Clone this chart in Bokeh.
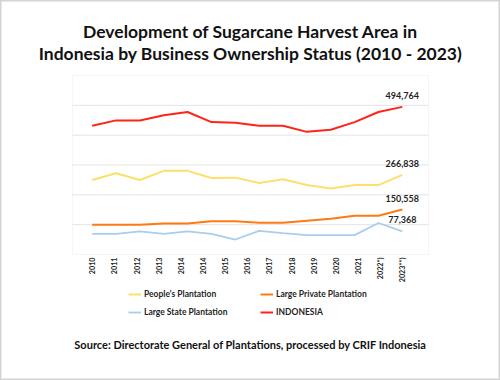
import numpy as np
from bokeh.plotting import figure
from bokeh.models import (ColumnDataSource, Range1d, Legend, LegendItem,
                          Label, BoxAnnotation)
from bokeh.embed import file_html
from bokeh.resources import INLINE
from bokeh.core.properties import value

# ---------------- data ----------------
years = ["2010", "2011", "2012", "2013", "2014", "2015", "2016",
         "2017", "2018", "2019", "2020", "2021", "2022", "2023"]
tick_labels = ["2010", "2011", "2012", "2013", "2014", "2014", "2015",
               "2016", "2017", "2018", "2019", "2020", "2021",
               "2022*)", "2023**)"]
peoples = [249800, 272600, 249800, 280400, 280400, 256600, 257600,
           239600, 252200, 232800, 221600, 232800, 232800, 266838]
private = [99600, 99600, 99600, 104000, 104000, 111800, 111800,
           106400, 106400, 113200, 120000, 130200, 130200, 150558]
state = [69200, 69200, 77400, 69200, 77400, 69200, 50200,
         79400, 71600, 64800, 64800, 64800, 105600, 77368]
indonesia = [431500, 449500, 449500, 466500, 477800, 443800, 441700,
             431500, 431500, 411100, 418000, 443800, 477800, 494764]
grid_values = [100000, 200000, 300000, 400000, 500000]
y_min, y_max = 0, 600000

FONT = "Lato"
TXT = "#1f1f1f"

# ---------------- geometry (pixels) ----------------
W, H = 500, 380
BOX_L, BOX_R, BOX_T, BOX_B = 72, 428, 75, 254      # plot-area box
X0_PX, TICK_PX = 91.7, 22.15                        # first tick, tick spacing
y_per_px = (y_max - y_min) / (BOX_B - BOX_T)

x_start = -X0_PX / TICK_PX
x_end = x_start + W / TICK_PX
y_start = y_min - (H - BOX_B) * y_per_px
y_end = y_max + BOX_T * y_per_px
box_left = x_start + BOX_L / TICK_PX
box_right = x_start + BOX_R / TICK_PX

n_ticks = len(tick_labels)
n_pts = len(years)
xs = [i * (n_ticks - 1) / (n_pts - 1) for i in range(n_pts)]

p = figure(width=W, height=H, output_backend="svg", toolbar_location=None,
           x_range=Range1d(x_start, x_end), y_range=Range1d(y_start, y_end),
           min_border=0, title=None)
p.axis.visible = False
p.grid.visible = False
p.background_fill_color = "white"
p.border_fill_color = "white"
p.outline_line_color = "#D4D4D4"
p.outline_line_width = 2

# plot-area box and grid lines
p.add_layout(BoxAnnotation(left=box_left, right=box_right, bottom=y_min,
                           top=y_max, fill_alpha=0, line_color="#DEDEDE",
                           line_width=1, level="underlay"))
p.segment(x0=[box_left] * len(grid_values), x1=[box_right] * len(grid_values),
          y0=grid_values, y1=grid_values, line_color="#E3E3E3", line_width=1)

# category labels under the plot area
p.text(x=list(range(n_ticks)), y=[y_min] * n_ticks, text=tick_labels,
       angle=np.pi / 2, text_align="right", text_baseline="middle",
       y_offset=3, text_font=value(FONT), text_font_style="bold",
       text_font_size="7.2px", text_color=TXT)

src = ColumnDataSource(dict(x=xs, peoples=peoples, private=private,
                            state=state, indonesia=indonesia))
r_peo = p.line("x", "peoples", source=src, line_color="#FCE06A", line_width=2)
r_pri = p.line("x", "private", source=src, line_color="#FF7A12", line_width=2)
r_sta = p.line("x", "state", source=src, line_color="#A9CDEF", line_width=1.8)
r_ind = p.line("x", "indonesia", source=src, line_color="#FF2418", line_width=2)

last_vals = [indonesia[-1], peoples[-1], private[-1], state[-1]]
lab_src = ColumnDataSource(dict(x=[xs[-1]] * 4, y=last_vals,
                                t=[f"{v:,}" for v in last_vals]))
p.text("x", "y", text="t", source=lab_src, text_align="center",
       text_baseline="bottom", y_offset=-8, text_font=value(FONT),
       text_font_style="bold", text_font_size="9px", text_color=TXT)

legend = Legend(items=[
    LegendItem(label="People's Plantation", renderers=[r_peo]),
    LegendItem(label="Large Private Plantation", renderers=[r_pri]),
    LegendItem(label="Large State Plantation", renderers=[r_sta]),
    LegendItem(label="INDONESIA", renderers=[r_ind]),
], location=(128, H - 318), orientation="horizontal", ncols=2,
    glyph_width=13, glyph_height=12, label_standoff=3, label_width=110,
    label_height=12, spacing=6, padding=0, margin=0,
    border_line_color=None, background_fill_alpha=0,
    label_text_font=FONT, label_text_font_style="bold",
    label_text_font_size="8.5px", label_text_color=TXT)
p.add_layout(legend, "center")

def add_text(txt, cy, size):
    p.add_layout(Label(x=W / 2, y=H - cy, x_units="screen", y_units="screen",
                       text=txt, text_align="center", text_baseline="middle",
                       text_font=FONT, text_font_style="bold",
                       text_font_size=size, text_color="#111111"))

add_text("Development of Sugarcane Harvest Area in", 31, "17.5px")
add_text("Indonesia by Business Ownership Status (2010 - 2023)", 53, "17.5px")
add_text("Source: Directorate General of Plantations, processed by CRIF Indonesia",
         344, "11px")

open("out.html", "w").write(file_html(p, INLINE))
